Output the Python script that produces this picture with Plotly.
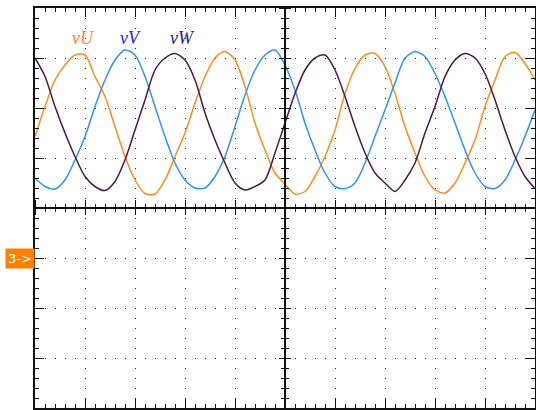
import plotly.graph_objects as go

# time axis in screen divisions (10 div across), one sample per 0.2 div
t_div = [round(0.2 * i, 1) for i in range(51)]

# channel voltages, in vertical divisions
v_u = [1.43, 2.03, 2.56, 2.86, 3.06, 3.06, 2.63, 2.23, 1.63, 1.03,
       0.56, 0.29, 0.28, 0.56, 1.03, 1.50, 2.10, 2.63, 3.00, 3.13,
       2.96, 2.43, 1.70, 1.16, 0.70, 0.48, 0.28, 0.33, 0.63, 1.03,
       1.56, 2.29, 2.79, 3.06, 3.09, 2.83, 2.29, 1.63, 1.10, 0.63,
       0.36, 0.30, 0.50, 0.90, 1.36, 2.03, 2.56, 3.03, 3.11, 2.89,
       2.56]
v_v = [0.60, 0.43, 0.38, 0.56, 0.96, 1.43, 2.03, 2.56, 2.96, 3.16,
       3.06, 2.63, 2.03, 1.43, 0.90, 0.56, 0.40, 0.40, 0.63, 1.03,
       1.63, 2.26, 2.76, 3.06, 3.16, 2.86, 2.36, 1.70, 1.16, 0.70,
       0.43, 0.39, 0.50, 0.90, 1.43, 1.96, 2.50, 3.00, 3.13, 3.03,
       2.69, 2.23, 1.70, 1.16, 0.70, 0.43, 0.39, 0.56, 0.96, 1.43,
       1.96]
v_w = [3.00, 2.63, 2.03, 1.50, 1.03, 0.63, 0.43, 0.35, 0.53, 0.96,
       1.56, 2.16, 2.76, 3.00, 3.09, 2.96, 2.56, 1.90, 1.36, 0.90,
       0.50, 0.36, 0.43, 0.56, 1.10, 1.70, 2.29, 2.76, 3.00, 3.06,
       2.76, 2.23, 1.63, 1.10, 0.70, 0.50, 0.33, 0.56, 0.90, 1.50,
       2.03, 2.63, 2.96, 3.09, 3.00, 2.69, 2.16, 1.56, 1.03, 0.63,
       0.39]

series = [
    ("vU", v_u, "#ff8c1a", "#ff8040", 0.96),
    ("vV", v_v, "#2e93f5", "#2222ff", 1.9),
    ("vW", v_w, "#4a1848", "#22227a", 2.94),
]

fig = go.Figure()

for name, vals, col, _, _ in series:
    fig.add_trace(go.Scatter(x=t_div, y=vals, mode="lines", name=name,
                             line=dict(color=col, width=1.5, shape="spline", smoothing=0.8),
                             showlegend=False, hoverinfo="skip"))

# empty traces so the centre crosshair axes get drawn
for xa, ya in [("x2", "y"), ("x3", "y"), ("x", "y2"), ("x", "y3")]:
    fig.add_trace(go.Scatter(x=[], y=[], xaxis=xa, yaxis=ya, showlegend=False))

grid_dash = "1px,9px"

border_x = dict(range=[0, 10], showline=True, linecolor="#111", linewidth=2, mirror="ticks",
                ticks="inside", ticklen=9, tickcolor="#111", dtick=1, tick0=0,
                minor=dict(ticks="inside", ticklen=4, dtick=0.2, tickcolor="#111", showgrid=False),
                showgrid=True, gridcolor="#222", gridwidth=1, griddash=grid_dash,
                showticklabels=False, zeroline=False, fixedrange=True, automargin=False)
border_y = dict(border_x, range=[-4, 4])

centre = dict(range=[0, 10], showline=True, linecolor="#111", linewidth=1.5,
              ticks="outside", ticklen=6, tickcolor="#111", dtick=1, tick0=0,
              minor=dict(ticks="outside", ticklen=3, dtick=0.2, tickcolor="#111"),
              showgrid=False, showticklabels=False, zeroline=False,
              anchor="free", position=0.5, automargin=False, fixedrange=True)

fig.update_layout(
    width=536, height=410,
    margin=dict(l=35, r=1, t=8, b=2),
    paper_bgcolor="white", plot_bgcolor="white",
    hovermode=False,
    xaxis=border_x,
    yaxis=border_y,
    xaxis2=dict(centre, overlaying="x", side="bottom"),
    xaxis3=dict(centre, overlaying="x", side="top", ticklen=7),
    yaxis2=dict(centre, range=[-4, 4], overlaying="y", side="left", ticklen=5),
    yaxis3=dict(centre, range=[-4, 4], overlaying="y", side="right", ticklen=5),
)

for name, _, _, lab_col, lx in series:
    fig.add_annotation(x=lx, y=3.4, xref="x", yref="y", showarrow=False,
                       text="<i>v" + name[1] + "</i>",
                       font=dict(family="Liberation Serif", size=18, color=lab_col))

# channel 3 ground marker
fig.add_annotation(x=0, y=-1, xref="paper", yref="y", xanchor="right", showarrow=False,
                   text="3->", bgcolor="#ff8000", borderpad=2,
                   font=dict(family="DejaVu Sans", size=13, color="white"))

# page body has a default 8px margin; drop it so the plot sits at the window origin
fig.write_html("out.html", config={"displayModeBar": False},
               post_script="document.body.style.margin='0';")
